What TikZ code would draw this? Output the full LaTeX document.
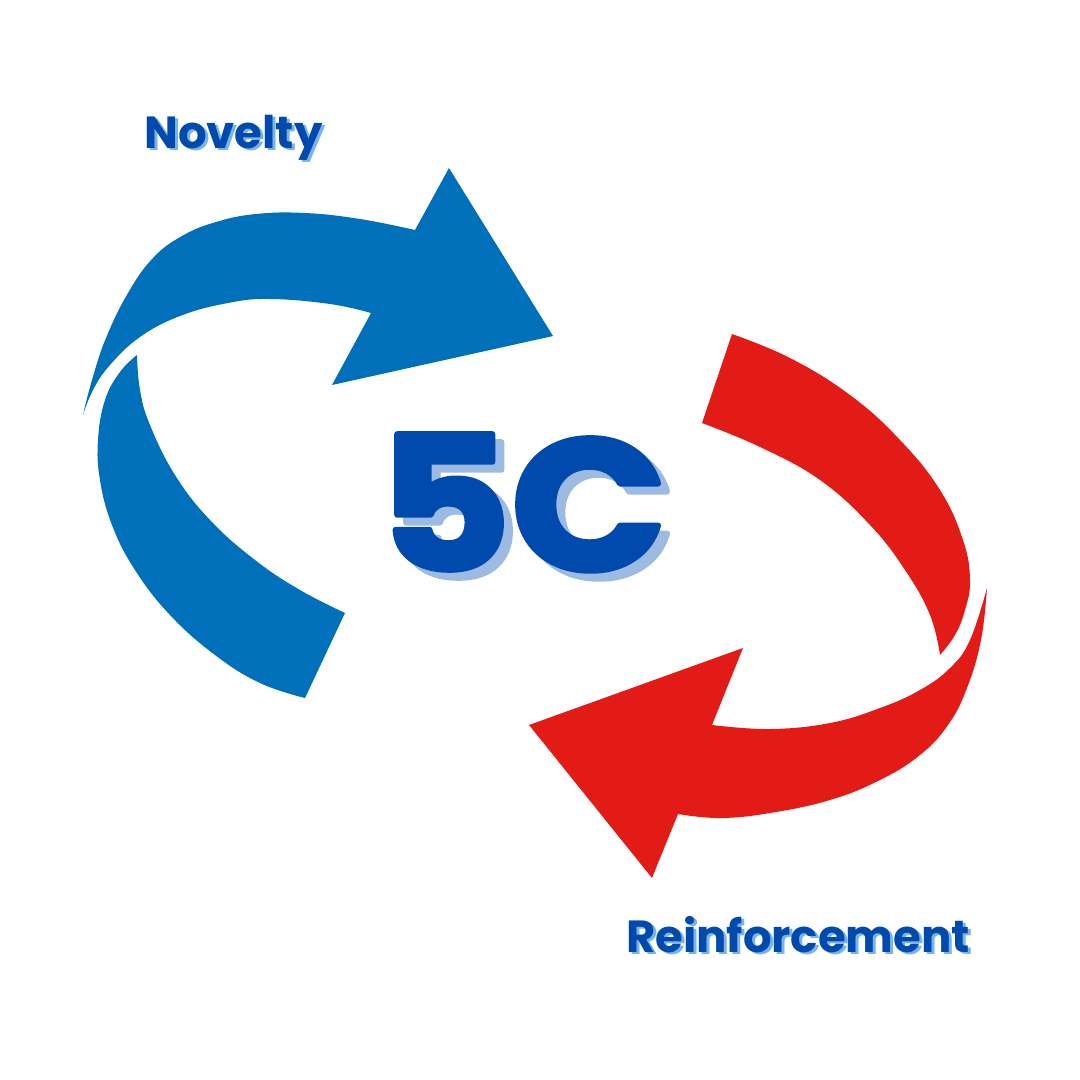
\documentclass[tikz,border=0pt]{standalone}
\usepackage{fontspec}
\setmainfont{Poppins}
\newfontfamily\heavyfont{Poppins}[BoldFeatures={FakeBold=3,FakeStretch=1.1}]
\definecolor{cycleblue}{RGB}{0,112,186}
\definecolor{cyclered}{RGB}{227,27,22}
\definecolor{textblue}{RGB}{0,74,173}
\definecolor{shadowblue}{RGB}{156,186,226}
\definecolor{labelshadow}{RGB}{120,180,235}
\begin{document}
\begin{tikzpicture}[x=1pt,y=-1pt,line join=round,
  bluepart/.style={fill=cycleblue},
  redpart/.style={fill=cyclered},
  labeltext/.style={anchor=base west,inner sep=0pt,font=\fontsize{45}{46}\selectfont\bfseries},
  bigtext/.style={anchor=base west,inner sep=0pt,font=\heavyfont\fontsize{186}{190}\selectfont\bfseries}]
  \useasboundingbox[fill=white] (0,0) rectangle (1080,1080);
  % blue arrow: upper band with head, lower band.
  \fill[bluepart] plot[smooth,tension=.7] coordinates {(83,415) (92,380) (106,338) (128,293) (153,258) (182,236) (216,222) (256,214) (305,213) (360,219) (415,230)}
    -- (449,168) -- (553,336) -- (332,385) -- (371,313)
    -- plot[smooth,tension=.7] coordinates {(371,313) (330,304) (270,299) (228,303) (180,316) (140,337) (110,365) (93,390) (83,415)} -- cycle;
  \fill[bluepart] plot[smooth,tension=.7] coordinates {(137,355) (120,372) (105,400) (98,440) (100,480) (112,525) (135,570) (170,615) (215,655) (260,683) (305,698)}
    -- (345,613)
    -- plot[smooth,tension=.7] coordinates {(345,613) (300,590) (255,560) (210,520) (175,475) (150,425) (140,390) (137,355)} -- cycle;
  % red arrow: upper band, lower band with head.
  \fill[redpart] plot[smooth,tension=.7] coordinates {(732,334) (790,358) (850,395) (900,440) (940,490) (963,540) (970,580) (965,610) (955,635) (940,655)}
    -- plot[smooth,tension=.7] coordinates {(940,655) (930,615) (905,570) (870,525) (820,480) (760,447) (702,423)} -- cycle;
  \fill[redpart] plot[smooth,tension=.7] coordinates {(987,588) (981,640) (967,688) (948,725) (920,755) (880,780) (830,800) (770,813) (720,818) (678,814)}
    -- (652,878) -- (529,725) -- (743,648) -- (712,725)
    -- plot[smooth,tension=.7] coordinates {(712,725) (770,729) (830,723) (880,708) (920,690) (950,668) (970,640) (987,588)} -- cycle;
  % labels with drop shadows.
  \node[labeltext,text=labelshadow] (novshadow) at (147,150) {Novelty};
  \node[labeltext,text=textblue] (novelty) at (144,148) {Novelty};
  \node[labeltext,text=labelshadow] (reinshadow) at (629,954) {Reinforcement};
  \node[labeltext,text=textblue] (reinforcement) at (626,952) {Reinforcement};
  \node[bigtext,text=shadowblue] (fiveshadow) at (387,578) {5C};
  \node[bigtext,text=textblue] (fivec) at (378,570) {5C};
\end{tikzpicture}
\end{document}
